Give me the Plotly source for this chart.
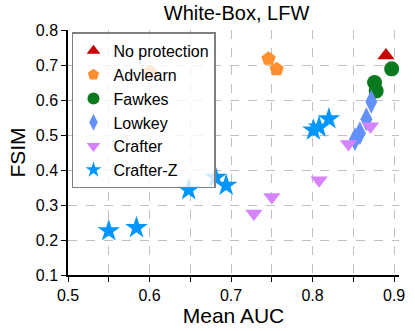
import plotly.graph_objects as go

# valores (Mean AUC, FSIM)
no_prot_auc = [0.890]
no_prot_fsim = [0.727]

advlearn_auc = [0.601, 0.746, 0.756]
advlearn_fsim = [0.680, 0.718, 0.688]

fawkes_auc = [0.897, 0.876, 0.878]
fawkes_fsim = [0.689, 0.650, 0.626]

lowkey_auc = [0.872, 0.866, 0.858, 0.852]
lowkey_fsim = [0.595, 0.545, 0.505, 0.488]

crafter_auc = [0.871, 0.844, 0.808, 0.750, 0.728]
crafter_fsim = [0.525, 0.474, 0.371, 0.323, 0.276]

crafterz_auc = [0.550, 0.584, 0.648, 0.681, 0.694, 0.801, 0.808, 0.820]
crafterz_fsim = [0.226, 0.235, 0.343, 0.379, 0.356, 0.514, 0.522, 0.546]

x_ticks = [0.5, 0.55, 0.6, 0.65, 0.7, 0.75, 0.8, 0.85, 0.9]
x_labels = ["0.5", "", "0.6", "", "0.7", "", "0.8", "", "0.9"]
y_ticks = [0.1, 0.2, 0.3, 0.4, 0.5, 0.6, 0.7, 0.8]

series = [
    ("No protection", no_prot_auc, no_prot_fsim, "triangle-up", "#CC0000", 15),
    ("Advlearn", advlearn_auc, advlearn_fsim, "pentagon", "#FF8F2E", 15),
    ("Fawkes", fawkes_auc, fawkes_fsim, "circle", "#0A7A1E", 15),
    ("Lowkey", lowkey_auc, lowkey_fsim, "diamond-tall", "#6490FA", 17),
    ("Crafter", crafter_auc, crafter_fsim, "triangle-down", "#D683FF", 15),
    ("Crafter-Z", crafterz_auc, crafterz_fsim, "star", "#0096FF", 17),
]

fig = go.Figure()
for nome, xs, ys, simb, cor, tam in series:
    fig.add_trace(go.Scatter(x=xs, y=ys, name=nome, mode="markers",
                             marker=dict(symbol=simb, color=cor, size=tam,
                                         line=dict(width=0))))

fig.update_layout(
    width=415, height=331,
    margin=dict(l=68, r=10, t=30, b=56),
    paper_bgcolor="white", plot_bgcolor="white",
    font=dict(family="Liberation Sans, Arial, sans-serif", size=16, color="black"),
    title=dict(text="White-Box, LFW", x=0.57, xanchor="center", y=0.962, yanchor="middle",
               font=dict(size=20)),
    showlegend=True,
    legend=dict(x=0.012, y=0.99, xanchor="left", yanchor="top",
                bgcolor="rgba(255,255,255,0.8)", bordercolor="#808080", borderwidth=1.5,
                font=dict(size=16), tracegroupgap=0, itemsizing="constant"),
)
fig.update_xaxes(range=[0.5, 0.906], tickvals=x_ticks, ticktext=x_labels,
                 showline=True, linecolor="black", linewidth=1.5,
                 ticks="outside", ticklen=5, tickwidth=1.2, tickcolor="black",
                 showgrid=True, gridcolor="#c0c0c0", griddash="dash", gridwidth=1,
                 zeroline=False,
                 title=dict(text="Mean AUC", font=dict(size=21), standoff=2))
fig.update_yaxes(range=[0.1, 0.8], tickvals=y_ticks, tickformat=".1f",
                 showline=True, linecolor="black", linewidth=1.5,
                 ticks="outside", ticklen=5, tickwidth=1.2, tickcolor="black",
                 showgrid=True, gridcolor="#c0c0c0", griddash="dash", gridwidth=1,
                 zeroline=False,
                 title=dict(text="FSIM", font=dict(size=21), standoff=4))

# sem margem do body para a figura ocupar a janela toda
fig.write_html("out.html", config={"displayModeBar": False},
               post_script="document.body.style.margin='0';")
